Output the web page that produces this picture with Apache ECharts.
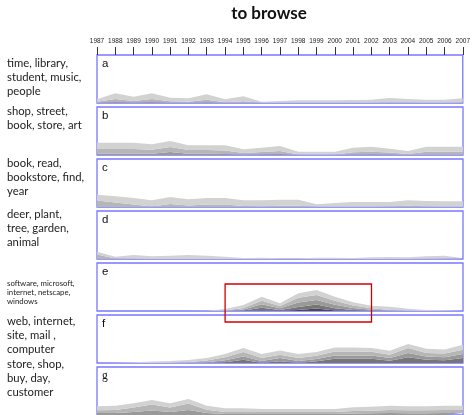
<!DOCTYPE html>
<html><head><meta charset="utf-8">
<script src="https://cdn.jsdelivr.net/npm/echarts@6/dist/echarts.min.js"></script>
<style>html,body{margin:0;padding:0;background:#fff}#c{width:473px;height:415px}</style>
</head><body><div id="c"></div>
<script>
// ---- data ----
const years = ['1987','1988','1989','1990','1991','1992','1993','1994','1995','1996','1997','1998','1999','2000','2001','2002','2003','2004','2005','2006','2007'];
const panelLetters = ['a','b','c','d','e','f','g'];
const topicLabels = [
  'time, library,\nstudent, music,\npeople',
  'shop, street,\nbook, store, art',
  'book, read,\nbookstore, find,\nyear',
  'deer, plant,\ntree, garden,\nanimal',
  'software, microsoft,\ninternet, netscape,\nwindows',
  'web, internet,\nsite, mail ,\ncomputer',
  'store, shop,\nbuy, day,\ncustomer'
];
// layers listed bottom (darkest) to top (lightest)
const aDark  = [0.3,1,0.5,1,0.3,0.2,0.8,0,0.3,0,0,0,0,0,0,0,0,0,0,0,0];
const aMid   = [1,3,1.5,3,1.5,1,2.5,0.7,1.5,0.2,0.2,0.2,0.2,0.2,0.3,0.3,0.5,0.4,0.3,0.3,0.5];
const aLight = [2.4,5.7,4.3,5.7,3.5,3.5,5.4,3,4.9,1.1,1.8,2.5,2.5,2.5,2.7,3,4.5,3.6,3,3,4.2];

const bDark  = [1.3,1.3,1.3,1.3,3,1.3,1.3,1,0.3,0.7,1,0,0,0,0.5,0.7,0.5,0,0.3,0.3,0.3];
const bMid   = [4.7,4.7,4.7,4,5,3.7,3.7,3.5,1.7,2.3,3,0.5,0.5,0.5,2.3,2.6,2,1,3,3,3];
const bLight = [6.3,6.3,6.3,5.4,6,4.7,4.7,5.2,3.7,4.3,5,2.8,2.8,2.8,4.5,5,3.8,3,5,5,5];

const cMid   = [6.5,4.5,2.5,0.5,3,1.5,2.5,2.5,1,0.5,1.3,1.3,0.2,0.3,0.3,0.3,0.5,1.2,0.5,0.3,0.3];
const cLight = [5.8,6.2,6.5,6.2,7,6.2,6.5,6.5,5.7,6.2,6,6,2.5,3.7,4.7,4.7,4.5,5.5,5.5,5.4,5.4];

const dMid   = [4.5,0.5,0.3,0,0,0,0,0,0,0,0,0,0,0,0,0,0,0,0.3,0.5,0];
const dLight = [2.8,1.8,3.7,2.7,3.3,4,3.3,2.3,1,1.3,0.7,0.7,1.3,1.3,1,1.7,2,1.7,2.4,2.8,0.7];

const eDarkest = [0,0,0,0,0,0,0,0,0,0.5,0,1,2.5,0.5,0,0,0,0,0,0,0];
const eDark    = [0,0,0,0,0,0,0,0,0.5,2.8,1,3,4,2.3,1,0.3,0,0,0,0,0];
const eMid     = [0,0,0,0,0,0,0,0,1,3.5,1.7,4.5,4.5,3.5,2,1,0.3,0,0,0,0];
const eLM      = [0,0,0,0,0,0,0,0.5,1.5,3.5,2.3,4.7,5,4,2.5,1.5,0.8,0.3,0,0,0];
const eLight   = [0,0,0,0,0,0,0.2,1.5,3,4,2.7,4.5,5,4,3.2,2.5,3.2,2,1,0.7,0.5];

const fDark  = [0,0,0,0,0,0,0,0.7,3.3,0,1.7,0,1.7,4.3,4.3,4.3,2.3,5.7,3.3,2.7,5];
const fMid   = [0,0,0,0,0,0,0.7,2,3.3,2,3.3,2,2.3,3.3,3.3,3.3,2.7,4.3,3.3,3,4];
const fLM    = [0,0,0,0,0,1,1.7,3,4.3,3,3.3,3,3.3,4,4,3.7,3.3,5,3.3,3.7,4.3];
const fLight = [0,0.3,0.7,1.5,2,2,2.7,3.3,4,4,4.3,4,3.7,4,4,3.7,4,4,4.3,4,5];

const gDark  = [2,2,3,4.5,3,5,2,1,1,1,1,1,1,1,1.5,1.7,2,1.8,1.8,2,2];
const gMid   = [2.7,3,4.5,6,4.5,6.5,3.3,2,2,2,2,2,2,2,2.5,2.6,3,2.9,2.9,3,3];
const gLight = [4,4.3,4.2,4.5,4.2,4.5,4,3.7,3.7,3,3,3,3,3,3.7,4,4.3,4,4,4.3,4.3];

const panels = [
  [aDark,aMid,aLight],
  [bDark,bMid,bLight],
  [cMid,cLight],
  [dMid,dLight],
  [eDarkest,eDark,eMid,eLM,eLight],
  [fDark,fMid,fLM,fLight],
  [gDark,gMid,gLight]
];
// highlighted range in panel e (year categories, value units)
const boxYears = ['1994', '2002'];
const boxValues = [27, -11];

// ---- layout / style ----
const tops = [55,107,159,211,263,315,367];
const panelH = 48, left = 97, width = 366, yMax = 48;
const grays = ['#d2d2d2','#b6b6b6','#999999','#767676','#4a4a4a']; // from top layer down
const labelCentersY = [63,111,163,214,283,321,364];

const chart = echarts.init(document.getElementById('c'), null, {renderer:'canvas'});
const grid = [], xAxis = [], yAxis = [], series = [];
tops.forEach((t,p)=>{
  grid.push({left:left, top:t, width:width, height:panelH, show:true, borderColor:'#7777ff', borderWidth:1.3, backgroundColor:'#fff', z:0});
  xAxis.push({type:'category', gridIndex:p, data:years, boundaryGap:false,
    position:'top', show: true,
    axisLine:{show:false, onZero:false}, splitLine:{show:false},
    axisTick:{show:p===0, length:8, interval:0, lineStyle:{color:'#333', width:1}},
    axisLabel:{show:p===0, interval:0, fontSize:6.5, color:'#222', margin:10, fontFamily:'Liberation Sans'}});
  yAxis.push({type:'value', gridIndex:p, min:0, max:yMax, show:false});
  const layers = panels[p];
  const n = layers.length;
  layers.forEach((arr,k)=>{
    series.push({type:'line', xAxisIndex:p, yAxisIndex:p, stack:'s'+p, symbol:'none', silent:true,
      lineStyle:{width:0}, areaStyle:{color:grays[n-1-k], opacity:1},
      data: arr.slice()});
  });
});

const graphics = [];
topicLabels.forEach((txt,p)=>{
  const small = p===4;
  const lh = small ? 9 : 14.3;
  graphics.push({type:'text', left:7, top: labelCentersY[p] - lh/2, silent:true,
    style:{text:txt, fontSize: small?7.8:11.3, lineHeight:lh, fill:'#222', fontFamily:'Lato'}});
  graphics.push({type:'text', left:102, top: tops[p]+3, silent:true,
    style:{text:panelLetters[p], fontSize:11.5, fill:'#111', fontFamily: p===6?'Liberation Serif':'Liberation Sans'}});
});

chart.setOption({
  animation:false,
  title:{text:'to browse', left:264, textAlign:'center', top:0,
    textStyle:{fontSize:17, fontWeight:'bold', color:'#111', fontFamily:'Lato'}},
  grid, xAxis, yAxis, series, graphic: graphics
});

// red highlight box placed from data coordinates of panel e
const p0 = chart.convertToPixel({gridIndex:4}, [boxYears[0], boxValues[0]]);
const p1 = chart.convertToPixel({gridIndex:4}, [boxYears[1], boxValues[1]]);
graphics.push({type:'rect', silent:true, z:100,
  shape:{x:p0[0], y:p0[1], width:p1[0]-p0[0], height:p1[1]-p0[1]},
  style:{fill:'none', stroke:'#d00000', lineWidth:1.3}});
chart.setOption({graphic: graphics});
</script></body></html>
